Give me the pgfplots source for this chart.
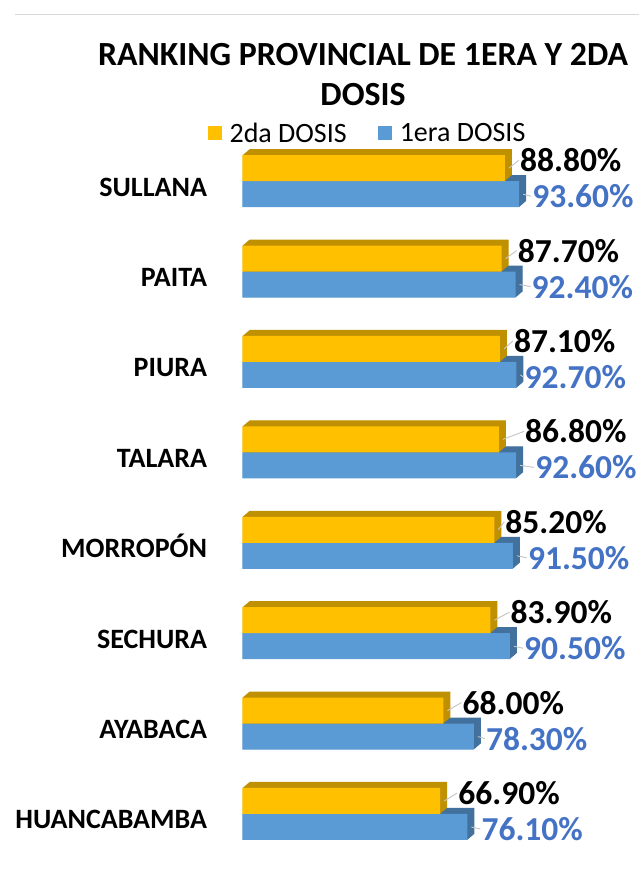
\documentclass[border=0pt]{standalone}
\usepackage{pgfplots}
\pgfplotsset{compat=1.18}
\usepackage{pgfplotstable}
\usepackage{fontspec}
\setmainfont{Carlito}

\definecolor{gold}{HTML}{FFC000}
\definecolor{golddark}{HTML}{BF9000}
\definecolor{blue1}{HTML}{5B9BD5}
\definecolor{bluedark}{HTML}{41719C}
\definecolor{bluetxt}{HTML}{4472C4}

% pos: 7 = top row; dxs/dxp = label offset from bar end (pt)
\pgfplotstableread{
pos segunda dxs primera dxp
7 88.8 15 93.6 13
6 87.7 16 92.4 16
5 87.1 14 92.7 8
4 86.8 26 92.6 19
3 85.2 11 91.5 15
2 83.9 20 90.5 14
1 68.0 19 78.3 12
0 66.9 18 76.1 14
}\datos

\begin{document}
\begin{tikzpicture}
\begin{axis}[
    scale only axis,
    width=295.5pt, height=723.2pt,
    xmin=0, xmax=100,
    ymin=-0.5, ymax=7.5,
    enlargelimits=false,
    clip=false,
    xbar, bar width=26pt,
    axis line style={draw=none},
    tick style={draw=none},
    xtick=\empty,
    ytick={0,...,7},
    yticklabels={HUANCABAMBA,AYABACA,SECHURA,MORROPÓN,TALARA,PIURA,PAITA ,SULLANA},
    yticklabel style={font=\bfseries\fontsize{28}{30}\selectfont, anchor=base east,
        inner sep=0pt, xshift=-31pt, yshift=-15pt},
    title={RANKING PROVINCIAL DE 1ERA Y 2DA\\DOSIS},
    title style={font=\bfseries\fontsize{33.8}{40}\selectfont, align=center, anchor=center,
        at={(axis description cs:0.408,1.0760)}},
    legend columns=2,
    legend style={at={(axis description cs:0.423,1.0035)}, anchor=center, draw=none, fill=none,
        font=\fontsize{28}{30}\selectfont, nodes={inner sep=2pt},
        /tikz/every odd column/.append style={column sep=6pt},
        /tikz/every even column/.append style={column sep=29pt}},
    legend image code/.code={\fill[#1] (0pt,-7pt) rectangle (14pt,7pt);},
]
\addlegendimage{fill=gold, draw=none}
\addlegendentry{2da DOSIS}
\addlegendimage{fill=blue1, draw=none}
\addlegendentry{1era DOSIS}

% 1era dosis: depth, then front face
\pgfplotsinvokeforeach{1,...,14}{
  \addplot[forget plot, fill=bluedark, draw=none, bar shift=-13pt,
      xshift=#1*0.5pt, yshift=#1*0.4286pt]
      table[x=primera, y=pos]{\datos};
}
\addplot[forget plot, fill=blue1, draw=none, bar shift=-13pt,
    point meta=x,
    nodes near coords={\pgfmathprintnumber[fixed,fixed zerofill,precision=2,assume math mode=true]{\pgfplotspointmeta}\%},
    visualization depends on={\thisrow{dxp} \as \dxp},
    every node near coord/.append style={font=\bfseries\fontsize{33.5}{35}\selectfont,
        text=bluetxt, anchor=west, inner sep=0pt, xshift=\dxp pt, yshift=-2pt,
        append after command={([xshift=-1pt]\tikzlastnode.west) edge[draw=gray!45, line width=0.9pt]
            ++({-\dxp*1pt+5pt},2pt)}}]
    table[x=primera, y=pos]{\datos};

% 2da dosis: depth, then front face
\pgfplotsinvokeforeach{1,...,14}{
  \addplot[forget plot, fill=golddark, draw=none, bar shift=13pt,
      xshift=#1*0.5pt, yshift=#1*0.4286pt]
      table[x=segunda, y=pos]{\datos};
}
\addplot[forget plot, fill=gold, draw=none, bar shift=13pt,
    point meta=x,
    nodes near coords={\pgfmathprintnumber[fixed,fixed zerofill,precision=2,assume math mode=true]{\pgfplotspointmeta}\%},
    visualization depends on={\thisrow{dxs} \as \dxs},
    every node near coord/.append style={font=\bfseries\fontsize{33.5}{35}\selectfont,
        text=black, anchor=west, inner sep=0pt, xshift=\dxs pt, yshift=8pt,
        append after command={([xshift=-1pt]\tikzlastnode.west) edge[draw=gray!45, line width=0.9pt]
            ++({-\dxs*1pt+5pt},-8pt)}}]
    table[x=segunda, y=pos]{\datos};
\end{axis}
\draw[black!15, line width=1pt] (-227.5pt,844.5pt) -- (396.5pt,844.5pt);
\pgfresetboundingbox
\path[use as bounding box] (-242.5pt,-10.8pt) rectangle (396.5pt,859.2pt);
\end{tikzpicture}
\end{document}
